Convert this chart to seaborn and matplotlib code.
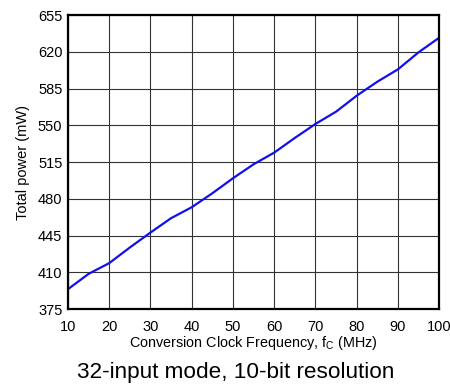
import matplotlib
matplotlib.use("Agg")
import matplotlib.pyplot as plt
import seaborn as sns
import pandas as pd

freq_mhz = [10, 15, 20, 25, 30, 35, 40, 45, 50, 55, 60, 65, 70, 75, 80, 85, 90, 95, 100]
power_mw = [394, 408.6, 418.8, 433.7, 447.9, 461.6, 472, 485.3, 499.6, 512.9, 524,
            538, 551.3, 563, 578.2, 591.5, 603.3, 619.5, 633.4]
x_ticks = [10, 20, 30, 40, 50, 60, 70, 80, 90, 100]
y_ticks = [375, 410, 445, 480, 515, 550, 585, 620, 655]

sns.set_theme(style="white")
plt.rcParams['font.family'] = ['Liberation Sans', 'DejaVu Sans']

df = pd.DataFrame({"f": freq_mhz, "p": power_mw})

fig = plt.figure(figsize=(4.5, 3.85), dpi=100)
ax = fig.add_axes([0.151, 0.197, 0.825, 0.764])
sns.lineplot(data=df, x="f", y="p", ax=ax, color="#1010f0", linewidth=1.6)

ax.set_xlim(10, 100)
ax.set_ylim(375, 655)
ax.set_xticks(x_ticks)
ax.set_yticks(y_ticks)
ax.grid(True, color="#333333", linewidth=0.8)
ax.set_axisbelow(True)
for s in ax.spines.values():
    s.set_color("black")
    s.set_linewidth(1.6)
ax.tick_params(axis="both", length=0, labelsize=10.5, colors="black")
ax.tick_params(axis="y", pad=4)
ax.tick_params(axis="x", pad=7.5)
ax.set_xlabel("Conversion Clock Frequency, f$_\\mathregular{C}$ (MHz)", fontsize=10.4, color="black", labelpad=0.5)
ax.set_ylabel("Total power (mW)", fontsize=10.5, color="black", labelpad=6)

fig.text(0.524, 0.033, "32-input mode, 10-bit resolution", ha="center", va="center", fontsize=16.2, color="black")

fig.savefig("out.png", dpi=100)
